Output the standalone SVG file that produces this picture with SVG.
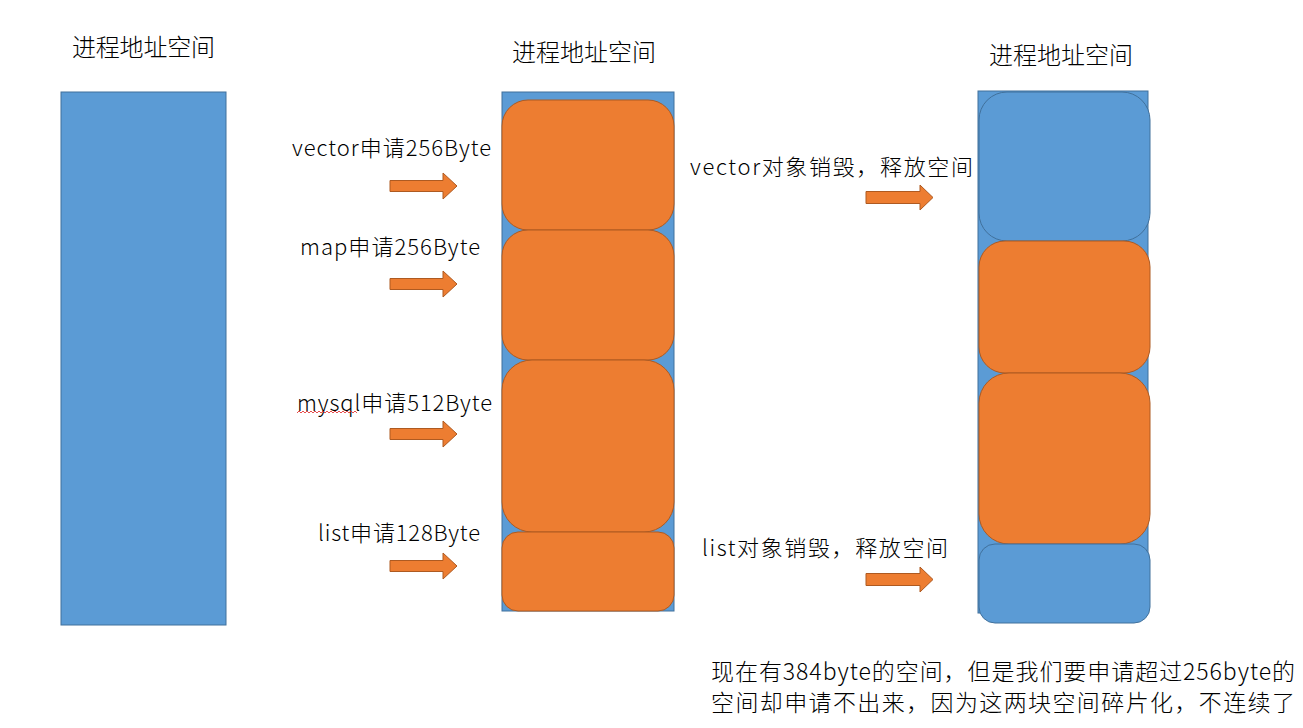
<svg xmlns="http://www.w3.org/2000/svg" width="1303" height="728" viewBox="0 0 1303 728">
<style>
.bg{fill:#5B9BD5;stroke:#41719C;stroke-width:1}
.org{fill:#ED7D31;stroke:#AE5A21;stroke-width:1}
.blu{fill:#5B9BD5;stroke:#41719C;stroke-width:1}
.arr{fill:#ED7D31;stroke:#AE5A21;stroke-width:1}
text{font-family:"Noto Sans CJK SC","Noto Sans",sans-serif;font-weight:300;fill:#000}
.t{font-size:24px}
.l{font-size:22px}
.b{font-size:23px}
</style>
<rect width="1303" height="728" fill="#fff"/>
<g id="col1">
<text class="t" x="72" y="56" textLength="143">进程地址空间</text>
<rect class="bg" x="61" y="92" width="165" height="533"/>
</g>
<g id="col2">
<text class="t" x="512" y="61" textLength="144">进程地址空间</text>
<rect class="bg" x="502" y="92" width="172" height="519"/>
<rect id="blk-vector" class="org" x="502" y="100" width="172" height="130" rx="26"/>
<rect id="blk-map" class="org" x="502" y="230" width="172" height="130" rx="26"/>
<rect id="blk-mysql" class="org" x="502" y="360" width="172" height="172" rx="30"/>
<rect id="blk-list" class="org" x="502" y="532" width="172" height="79" rx="16"/>
</g>
<g id="col3">
<text class="t" x="989" y="64" textLength="144">进程地址空间</text>
<rect class="bg" x="978" y="91" width="170" height="522"/>
<rect id="free-vector" class="blu" x="979" y="92" width="171" height="149" rx="28"/>
<rect id="blk3-map" class="org" x="979" y="241" width="171" height="132" rx="26"/>
<rect id="blk3-mysql" class="org" x="979" y="373" width="171" height="171" rx="30"/>
<rect id="free-list" class="blu" x="979" y="544" width="171" height="79" rx="16"/>
</g>
<g id="labels">
<text class="l" x="292" y="156" textLength="199">vector申请256Byte</text>
<text class="l" x="300" y="255" textLength="180">map申请256Byte</text>
<text class="l" x="297" y="411" textLength="195">mysql申请512Byte</text>
<path d="M297,413 l2,-2 l2,2 l2,-2 l2,2 l2,-2 l2,2 l2,-2 l2,2 l2,-2 l2,2 l2,-2 l2,2 l2,-2 l2,2 l2,-2 l2,2 l2,-2 l2,2 l2,-2 l2,2 l2,-2 l2,2 l2,-2 l2,2 l2,-2 l2,2 l2,-2 l2,2 l2,-2 l2,2" fill="none" stroke="#E02020" stroke-width="0.8"/>
<text class="l" x="318" y="541" textLength="162">list申请128Byte</text>
<text class="l" x="690" y="175" textLength="283">vector对象销毁，释放空间</text>
<text class="l" x="702" y="556" textLength="246">list对象销毁，释放空间</text>
</g>
<g id="connectors">
<path class="arr" d="M390,180.5 H443 V173 L457,186 L443,199 V191.5 H390 Z"/>
<path class="arr" d="M390,278.5 H443 V271 L457,284 L443,297 V289.5 H390 Z"/>
<path class="arr" d="M390,428.5 H443 V421 L457,434 L443,447 V439.5 H390 Z"/>
<path class="arr" d="M390,560.5 H443 V553 L457,566 L443,579 V571.5 H390 Z"/>
<path class="arr" d="M866,191.5 H920 V185 L933,197.5 L920,210 V203.5 H866 Z"/>
<path class="arr" d="M866,573.5 H920 V567 L933,579.5 L920,592 V585.5 H866 Z"/>
</g>
<g id="note">
<text class="b" x="711" y="680" textLength="584">现在有384byte的空间，但是我们要申请超过256byte的</text>
<text class="b" x="711" y="711" textLength="584">空间却申请不出来，因为这两块空间碎片化，不连续了</text>
</g>
</svg>
